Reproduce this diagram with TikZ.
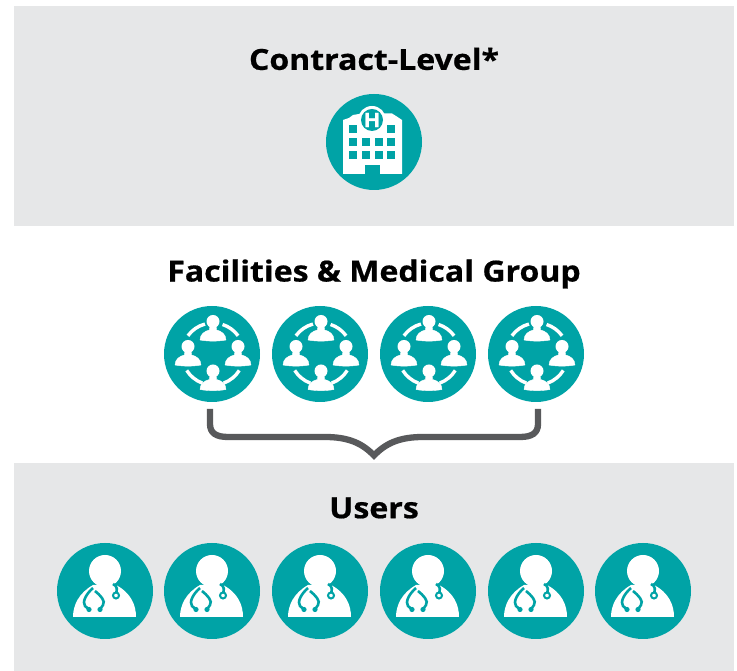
\documentclass[tikz,border=0pt]{standalone}
\usepackage{fontspec}
\setmainfont{Open Sans}[BoldFeatures={FakeStretch=1.105,FakeBold=0.6}]
\usepackage{tikz}

\definecolor{bandgrey}{HTML}{E6E7E8}
\definecolor{iconteal}{HTML}{00A3A6}
\definecolor{bracegrey}{HTML}{58595B}

\tikzset{
	band/.style = {fill = bandgrey, inner sep = 0pt, outer sep = 0pt, minimum width = 720pt},
	disc/.style = {circle, fill = iconteal, inner sep = 0pt, outer sep = 0pt, minimum size = 96pt},
	heading/.style = {font = \fontsize{29}{32}\selectfont\bfseries, inner sep = 0pt},
	bracket/.style = {draw = bracegrey, line width = 6.3pt, miter limit = 10},
	person/.pic = {
		\fill[white] (0,9.5) circle (6.5);
		\filldraw[white] (-3,6) -- (3,6) -- (3.5,1) .. controls (8,0) and (13,-3) .. (13,-9)
			.. controls (5,-10.5) and (-5,-10.5) .. (-13,-9)
			.. controls (-13,-3) and (-8,0) .. (-3.5,1) -- cycle;
	},
	team/.pic = {
		\draw[white, line width = 3.4pt] (1,0) ++(105:31) arc (105:144:31);
		\draw[white, line width = 3.4pt] (1,0) ++(36:31) arc (36:72:31);
		\draw[white, line width = 3.4pt] (1,0) ++(212:31) arc (212:250:31);
		\draw[white, line width = 3.4pt] (1,0) ++(290:31) arc (290:328:31);
		\pic at (1,-26.5) {person};
		\pic at (1,23) {person};
		\pic at (-24,-2) {person};
		\pic at (26,-2) {person};
	},
	doctor/.pic = {
		\fill[white] (0,20) circle (16);
		\fill[white] (-32,-26) -- (31,-26)
			.. controls (31,-14) and (26,-2) .. (11,6) -- (-12,6)
			.. controls (-26,-2) and (-32,-14) .. cycle;
		\draw[iconteal, line width = 2.6pt] (-12,3) .. controls (-19,-3) and (-23,-11) .. (-20,-15) -- (-16,-18.5);
		\draw[iconteal, line width = 2.6pt] (-10,0) .. controls (-5,-4) and (1,-10) .. (-2,-14) -- (-5,-18.5);
		\fill[iconteal] (-16,-18.5) circle (2.6);
		\fill[iconteal] (-5,-18.5) circle (2.6);
		\draw[iconteal, line width = 2.6pt] (8,7) .. controls (13,5) and (12,0) .. (11,-2);
		\draw[iconteal, fill = white, line width = 2pt] (11,-4.5) circle (3);
	},
	hospital/.pic = {
		\fill[white] (-31,-32) -- (-31,22) -- (-25,24) -- (-21,27) -- (-12,28.5)
			-- (18,28.5) -- (22,26) -- (28,22) -- (28,-32) -- cycle;
		\fill[white] (-2,22) circle (14);
		\fill[iconteal] (-2,22) circle (11);
		\node[font = \fontsize{20}{20}\selectfont\bfseries, text = white, inner sep = 0pt] (hletter) at (-2,22) {H};
		\fill[iconteal] (-25,8.7) rectangle (-17,16.7);
		\fill[iconteal] (13.3,8.7) rectangle (21.3,16.7);
		\fill[iconteal] (-25,-4.3) rectangle (-17,3.7);
		\fill[iconteal] (-12.3,-4.3) rectangle (-4.3,3.7);
		\fill[iconteal] (0.7,-4.3) rectangle (8.7,3.7);
		\fill[iconteal] (13.3,-4.3) rectangle (21.3,3.7);
		\fill[iconteal] (-25,-17.3) rectangle (-17,-9.3);
		\fill[iconteal] (-12.3,-17.3) rectangle (-4.3,-9.3);
		\fill[iconteal] (0.7,-17.3) rectangle (8.7,-9.3);
		\fill[iconteal] (13.3,-17.3) rectangle (21.3,-9.3);
		\fill[iconteal] (-9,-32) rectangle (6,-23.3);
	}
}

\begin{document}
\begin{tikzpicture}[x = 1pt, y = 1pt]
	\useasboundingbox (0,0) rectangle (737,671);

	\node[band, minimum height = 220pt] (contractband) at (374,555) {};
	\node[band, minimum height = 208pt] (usersband) at (374,104) {};

	\node[heading] (contract) at (374,612) {Contract-Level*};
	\node[heading] (facilities) at (374,397) {Facilities \& Medical Group};
	\node[heading] (users) at (374,163) {Users};

	\node[disc] (hosp) at (374,529) {};
	\pic at (hosp) {hospital};

	\node[disc] (fac1) at (212,317) {};
	\node[disc] (fac2) at (320,317) {};
	\node[disc] (fac3) at (428,317) {};
	\node[disc] (fac4) at (536,317) {};
	\pic at (fac1) {team};
	\pic at (fac2) {team};
	\pic at (fac3) {team};
	\pic at (fac4) {team};

	\node[disc] (doc1) at (105,80) {};
	\node[disc] (doc2) at (212,80) {};
	\node[disc] (doc3) at (320,80) {};
	\node[disc] (doc4) at (428,80) {};
	\node[disc] (doc5) at (536,80) {};
	\node[disc] (doc6) at (643,80) {};
	\pic at (doc1) {doctor};
	\pic at (doc2) {doctor};
	\pic at (doc3) {doctor};
	\pic at (doc4) {doctor};
	\pic at (doc5) {doctor};
	\pic at (doc6) {doctor};

	\coordinate (tip) at ([yshift = 7.5pt]usersband.north);
	\draw[bracket, shorten <= 7pt, shorten >= 7pt] ([xshift = -2pt]fac1.south) -- (210,247)
		.. controls (210,238) and (216,234) .. (228,234) -- (325,234)
		.. controls (348,234) and (362,228) .. (tip)
		.. controls (386,228) and (400,234) .. (423,234) -- (520,234)
		.. controls (532,234) and (538,238) .. (538,247) -- ([xshift = 2pt]fac4.south);
\end{tikzpicture}
\end{document}
